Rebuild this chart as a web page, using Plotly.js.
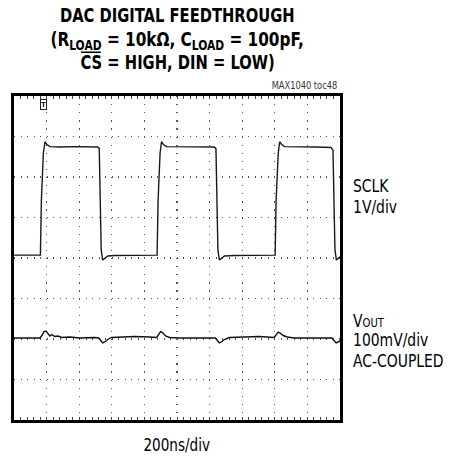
<!DOCTYPE html>
<html>
<head>
<meta charset="utf-8">
<script src="https://cdn.plot.ly/plotly-3.0.1.min.js"></script>
<style>html,body{margin:0;padding:0;background:#fff}</style>
</head>
<body>
<div id="chart" style="width:456px;height:460px"></div>
<script>
// Time axis: 200 ns/div, 10 divisions
const timeNs = [0, 2000];
// SCLK trace (ns, volts) — 1 V/div
const sclkT = [0,162,168,180,190,202,220,281,373,465,514,523,529,535,544,557,575,618,709,878,884,896,905,917,936,1000,1100,1229,1239,1245,1251,1260,1272,1291,1352,1450,1602,1608,1621,1630,1642,1660,1750,1850,1945,1957,1963,1969,1978,1988,2000];
const sclkV = [0.07,0.07,1.42,2.58,2.87,2.80,2.75,2.74,2.75,2.75,2.74,2.70,1.42,0.20,-0.05,-0.01,0.05,0.06,0.07,0.07,1.42,2.58,2.87,2.80,2.75,2.75,2.74,2.74,2.70,1.42,0.20,-0.05,-0.01,0.05,0.06,0.07,0.07,1.42,2.58,2.87,2.80,2.75,2.75,2.74,2.73,2.66,1.42,0.20,-0.05,-0.01,0.03];
// VOUT trace (ns, mV, AC-coupled) — 100 mV/div
const voutT = [0,159,171,184,196,208,220,232,251,269,294,342,404,495,520,532,544,557,575,599,648,740,832,875,887,899,911,930,954,1015,1138,1235,1248,1260,1272,1291,1321,1413,1505,1596,1608,1621,1633,1651,1676,1719,1841,1951,1963,1976,1988,2000];
const voutMV = [2.5,2.5,8.6,18.4,19.6,13.5,7.4,11.0,6.1,7.4,3.7,4.9,2.5,3.7,2.5,-3.7,-9.8,-7.4,-1.2,3.7,4.9,6.1,4.9,3.7,11.0,18.4,16.0,7.4,3.7,2.5,2.5,2.5,-3.7,-9.8,-7.4,-1.2,3.7,4.9,6.1,3.7,11.0,17.2,14.7,8.6,4.9,2.5,2.5,2.5,-3.7,-9.8,-7.4,-4.9];

const sclkVoltsPerDiv = 1, sclkOffsetDiv = 0;
const voutMVPerDiv = 100, voutOffsetDiv = -2;

const cond = '"DejaVu Sans Condensed", "DejaVu Sans", Arial, sans-serif';

const traces = [
  {x: sclkT, y: sclkV.map(v => v / sclkVoltsPerDiv + sclkOffsetDiv), mode: 'lines',
   line: {color: '#1a1a1a', width: 1.4}, hoverinfo: 'skip', showlegend: false},
  {x: voutT, y: voutMV.map(v => v / voutMVPerDiv + voutOffsetDiv), mode: 'lines',
   line: {color: '#111', width: 1.4}, hoverinfo: 'skip', showlegend: false}
];

// horizontal squeeze per annotation (emulates a condensed typeface)
const squeeze = [];
function ann(text, x, y, size, sx, opts) {
  squeeze.push(sx);
  return Object.assign({text: text, x: x, y: y, xref: 'paper', yref: 'paper', showarrow: false,
    xanchor: 'left', yanchor: 'middle', font: {family: cond, size: size, color: '#000'}}, opts || {});
}

const annotations = [
  ann('<b>DAC DIGITAL FEEDTHROUGH</b>', 0.5, 1.2485, 20, 0.82, {xanchor: 'center'}),
  ann('<b>(R<sub>LOAD</sub> = 10kΩ, C<sub>LOAD</sub> = 100pF,</b>', 0.5, 1.172, 20, 0.85, {xanchor: 'center'}),
  ann('<b>CS = HIGH, DIN = LOW)</b>', 0.5, 1.106, 20, 0.82, {xanchor: 'center'}),
  ann('MAX1040 toc48', 1.0, 1.031, 10, 0.92, {xanchor: 'right', font: {family: cond, size: 10, color: '#333'}}),
  ann('SCLK', 1.0337, 0.7253, 18, 0.86),
  ann('1V/div', 1.0337, 0.659, 18, 0.86),
  ann('V<span style="font-size:13px">OUT</span>', 1.0337, 0.306, 18, 0.86),
  ann('100mV/div', 1.0337, 0.247, 18, 0.86),
  ann('AC-COUPLED', 1.0337, 0.185, 18, 0.86),
  ann('200ns/div', 0.5, -0.077, 18, 0.84, {xanchor: 'center'})
];
annotations.push({text: '<b>T</b>', x: 181, y: 3.78, xref: 'x', yref: 'y', showarrow: false,
  font: {family: 'Arial, sans-serif', size: 8, color: '#000'}, bgcolor: '#fff',
  bordercolor: '#222', borderwidth: 1, borderpad: 0});
squeeze.push(1);

const layout = {
  width: 456, height: 460,
  margin: {l: 14, r: 116, t: 96, b: 40},
  paper_bgcolor: '#fff', plot_bgcolor: '#fff',
  showlegend: false,
  xaxis: {range: timeNs, dtick: 200, tick0: 0, showticklabels: false, zeroline: false,
    showgrid: true, gridcolor: '#555', gridwidth: 1.2, griddash: '1.2px,6.9px',
    showline: true, linecolor: '#000', linewidth: 3, mirror: 'allticks',
    ticks: 'inside', ticklen: 3, tickcolor: '#444', tickwidth: 1,
    minor: {dtick: 40, ticks: 'inside', ticklen: 3, tickcolor: '#444', tickwidth: 1, showgrid: false},
    fixedrange: true},
  yaxis: {range: [-4, 4], dtick: 1, tick0: 0, showticklabels: false, zeroline: false,
    showgrid: true, gridcolor: '#555', gridwidth: 1.2, griddash: '1.2px,5.3px',
    showline: true, linecolor: '#000', linewidth: 3, mirror: true, ticks: '',
    fixedrange: true},
  // overline above "CS" (chip-select, active low)
  shapes: [{type: 'line', xref: 'paper', yref: 'paper', x0: 0.2055, x1: 0.2665, y0: 1.135, y1: 1.135,
    line: {color: '#000', width: 1.6}}],
  annotations: annotations
};

Plotly.newPlot('chart', traces, layout, {staticPlot: true, displayModeBar: false}).then(function (gd) {
  gd.querySelectorAll('g.annotation').forEach(function (g) {
    const i = +g.getAttribute('data-index');
    const s = squeeze[i];
    if (!s || s === 1) return;
    const t = g.querySelector('text.annotation-text');
    if (!t) return;
    const anchor = annotations[i].xanchor;
    t.style.transformBox = 'fill-box';
    t.style.transformOrigin = anchor === 'left' ? '0% 50%' : (anchor === 'right' ? '100% 50%' : '50% 50%');
    t.style.transform = 'scaleX(' + s + ')';
  });
});
</script>
</body>
</html>
